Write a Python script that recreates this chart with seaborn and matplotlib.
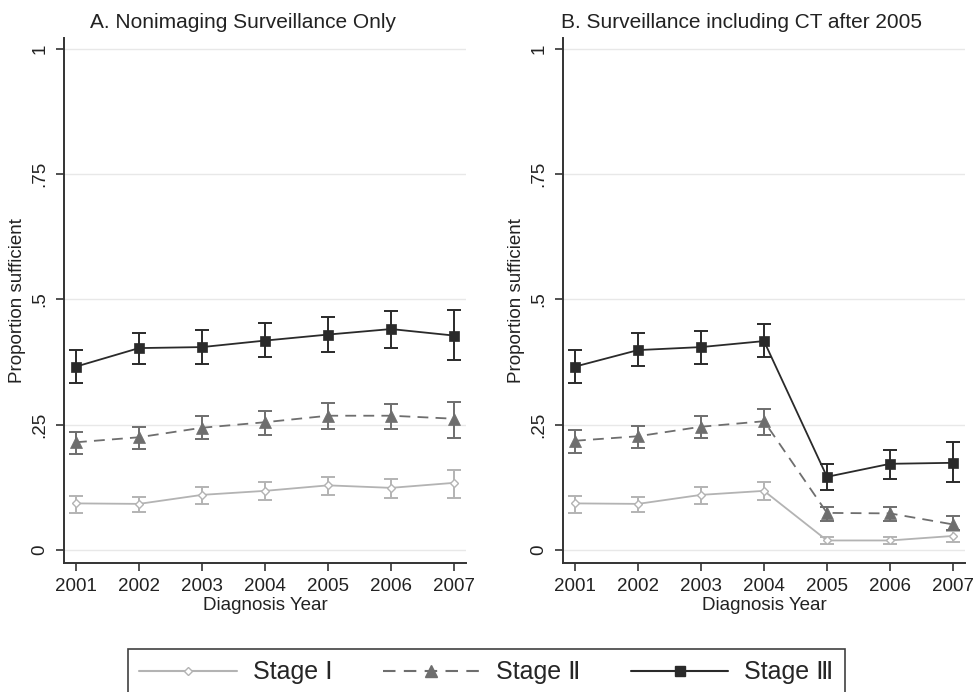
import numpy as np
import pandas as pd
import matplotlib
matplotlib.use("Agg")
import matplotlib.pyplot as plt
from matplotlib.lines import Line2D
import seaborn as sns

sns.set_style("white")
plt.rcParams['font.family'] = ['Liberation Sans', 'DejaVu Sans', 'Noto Sans CJK SC']

years = [2001, 2002, 2003, 2004, 2005, 2006, 2007]
stages = ["Stage Ⅰ", "Stage Ⅱ", "Stage Ⅲ"]

# Panel A: Nonimaging surveillance only
a_s1 = [0.093, 0.092, 0.110, 0.118, 0.129, 0.124, 0.134]
a_s1_lo = [0.073, 0.076, 0.092, 0.100, 0.110, 0.104, 0.104]
a_s1_hi = [0.108, 0.106, 0.125, 0.136, 0.146, 0.141, 0.159]
a_s2 = [0.215, 0.225, 0.244, 0.255, 0.268, 0.268, 0.262]
a_s2_lo = [0.192, 0.201, 0.221, 0.229, 0.241, 0.241, 0.224]
a_s2_hi = [0.236, 0.245, 0.267, 0.278, 0.293, 0.291, 0.296]
a_s3 = [0.366, 0.403, 0.405, 0.418, 0.430, 0.441, 0.428]
a_s3_lo = [0.333, 0.371, 0.371, 0.385, 0.395, 0.403, 0.379]
a_s3_hi = [0.400, 0.434, 0.439, 0.454, 0.465, 0.478, 0.480]

# Panel B: Surveillance including CT after 2005
b_s1 = [0.093, 0.092, 0.110, 0.118, 0.019, 0.019, 0.028]
b_s1_lo = [0.073, 0.076, 0.092, 0.100, 0.011, 0.011, 0.015]
b_s1_hi = [0.108, 0.106, 0.125, 0.136, 0.025, 0.025, 0.037]
b_s2 = [0.218, 0.227, 0.246, 0.257, 0.074, 0.073, 0.051]
b_s2_lo = [0.194, 0.204, 0.223, 0.229, 0.058, 0.058, 0.040]
b_s2_hi = [0.240, 0.248, 0.268, 0.281, 0.085, 0.086, 0.068]
b_s3 = [0.366, 0.399, 0.405, 0.417, 0.146, 0.172, 0.174]
b_s3_lo = [0.333, 0.368, 0.371, 0.385, 0.120, 0.141, 0.136]
b_s3_hi = [0.400, 0.434, 0.437, 0.452, 0.172, 0.200, 0.216]

titles = ["A. Nonimaging Surveillance Only", "B. Surveillance including CT after 2005"]
yticks = [0, 0.25, 0.5, 0.75, 1]
ytick_labels = ["0", ".25", ".5", ".75", "1"]

colors = ["#b3b3b3", "#6e6e6e", "#2a2a2a"]
markers = ["D", "^", "s"]
mfaces = ["white", "#6e6e6e", "#2a2a2a"]
msizes = [4.5, 8, 7.5]
lstyles = ["-", (0, (6, 4)), "-"]

panels = [
    [(a_s1, a_s1_lo, a_s1_hi), (a_s2, a_s2_lo, a_s2_hi), (a_s3, a_s3_lo, a_s3_hi)],
    [(b_s1, b_s1_lo, b_s1_hi), (b_s2, b_s2_lo, b_s2_hi), (b_s3, b_s3_lo, b_s3_hi)],
]

fig = plt.figure(figsize=(9.73, 6.92), dpi=100)
ax_pos = [[64 / 973, 129 / 692, 402 / 973, 525 / 692],
          [563 / 973, 129 / 692, 402 / 973, 525 / 692]]

for p, (pos, series) in enumerate(zip(ax_pos, panels)):
    ax = fig.add_axes(pos)
    for i, (vals, lo, hi) in enumerate(series):
        df = pd.DataFrame({"year": years, "value": vals})
        err = [np.array(vals) - np.array(lo), np.array(hi) - np.array(vals)]
        ax.errorbar(years, vals, yerr=err, fmt="none", ecolor=colors[i],
                    elinewidth=1.4, capsize=5, capthick=1.4, zorder=2)
        sns.lineplot(data=df, x="year", y="value", ax=ax, color=colors[i],
                     marker=markers[i], markersize=msizes[i],
                     markerfacecolor=mfaces[i], markeredgecolor=colors[i],
                     markeredgewidth=1.0 if i == 0 else 0.5,
                     linestyle=lstyles[i], linewidth=1.3, zorder=3,
                     legend=False, errorbar=None)
    ax.set_xlim(2000.81, 2007.19)
    ax.set_ylim(-0.026, 1.022)
    ax.set_xticks(years)
    ax.set_xticklabels([str(y) for y in years], fontsize=13.5, color="#222222")
    ax.set_yticks(yticks)
    ax.set_yticklabels(ytick_labels, fontsize=13.5, rotation=90, va="center",
                       color="#222222")
    for yv in yticks:
        ax.axhline(yv, color="#e8e8e8", linewidth=1.0, zorder=0)
    ax.tick_params(axis="both", which="major", direction="out", length=6,
                   width=1.2, color="#333333", pad=5, left=True, bottom=True)
    for side in ["top", "right"]:
        ax.spines[side].set_visible(False)
    for side in ["left", "bottom"]:
        ax.spines[side].set_color("#333333")
        ax.spines[side].set_linewidth(1.4)
    ax.set_xlabel("Diagnosis Year", fontsize=13.5, color="#222222", labelpad=1)
    ax.set_ylabel("Proportion sufficient", fontsize=13.5, color="#222222",
                  labelpad=4)
    ax.set_title(titles[p], fontsize=15, color="#222222", x=0.445, pad=7)

handles = [Line2D([0], [0], color=colors[i], marker=markers[i],
                  markersize=msizes[i], markerfacecolor=mfaces[i],
                  markeredgecolor=colors[i], linestyle=lstyles[i],
                  linewidth=1.5) for i in range(3)]
leg = fig.legend(handles, stages, loc="upper center",
                 bbox_to_anchor=(0.5, 1 - 649 / 692), ncol=3,
                 fontsize=18, frameon=True, fancybox=False, edgecolor="#111111",
                 handlelength=3.9, handletextpad=0.65, columnspacing=2.0,
                 borderpad=0.45, borderaxespad=0.0)
leg.get_frame().set_linewidth(1.2)

fig.savefig("out.png", dpi=100, facecolor="white")
